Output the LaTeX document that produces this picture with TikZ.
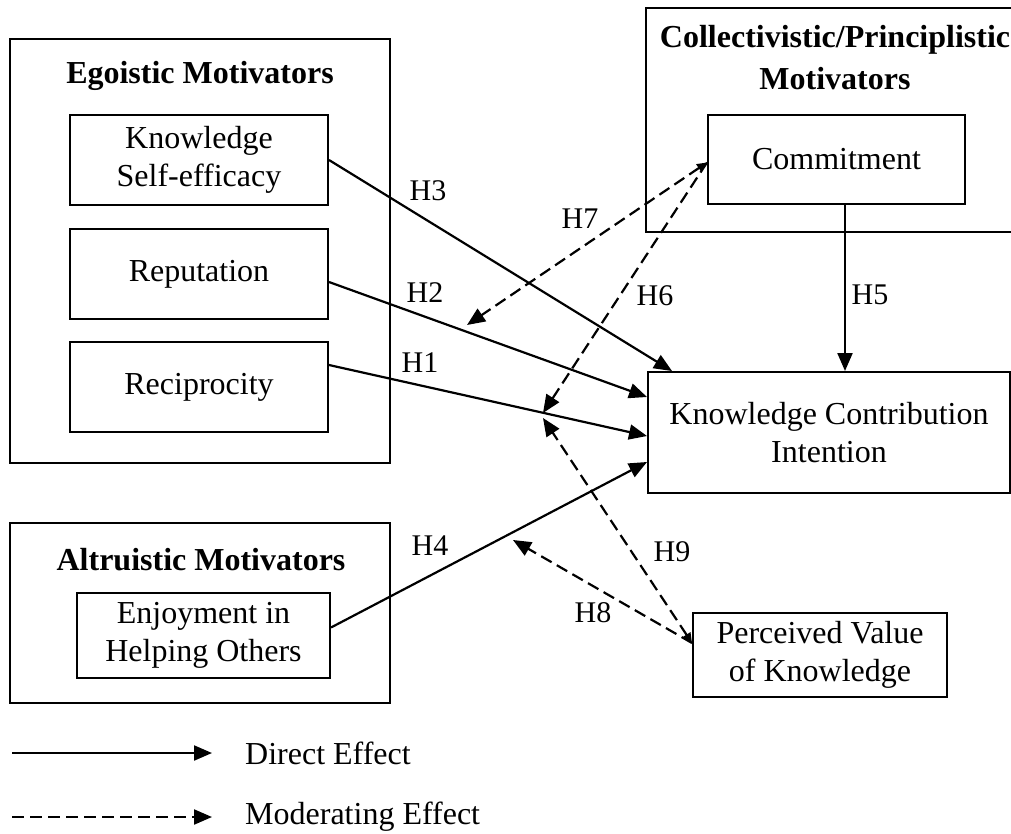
\documentclass[tikz,border=0pt]{standalone}
\usepackage{fontspec}
\setmainfont{Liberation Serif}
\usetikzlibrary{arrows.meta,calc}
\begin{document}
\begin{tikzpicture}[x=1pt,y=-1pt,
  every node/.style={font=\fontsize{32}{38}\selectfont},
  box/.style={draw,line width=2pt,inner sep=0pt,align=center},
  grp/.style={draw,line width=2pt,inner sep=0pt},
  ttl/.style={font=\fontsize{32}{42}\selectfont\bfseries,align=center,inner sep=0pt},
  lbl/.style={font=\fontsize{30}{36}\selectfont,inner sep=0pt},
  direct/.style={line width=2.2pt,-{Triangle[length=18pt,width=15pt]}},
  moder/.style={line width=2.2pt,dash pattern=on 12pt off 6pt,-{Triangle[length=18pt,width=15pt]}},
  moderb/.style={line width=2.2pt,dash pattern=on 12pt off 6pt,{Triangle[length=10pt,width=9pt]}-{Triangle[length=18pt,width=15pt]}}
]
\useasboundingbox (0,0) rectangle (1011,833);
% group boxes
\node[grp,minimum width=380pt,minimum height=424pt] (ego) at (200,251) {};
\node[ttl] (egot) at (200,76) {Egoistic Motivators};
\node[grp,minimum width=380pt,minimum height=180pt] (alt) at (200,613) {};
\node[ttl] (altt) at (201,560) {Altruistic Motivators};
\node[grp,minimum width=384pt,minimum height=224pt] (col) at (838,120) {};
\node[ttl] (colt) at (835,58) {Collectivistic/Principlistic\\Motivators};
% construct boxes
\node[box,minimum width=258pt,minimum height=90pt] (kse) at (199,160) {Knowledge\\Self-efficacy};
\node[box,minimum width=258pt,minimum height=90pt] (rep) at (199,274) {Reputation};
\node[box,minimum width=258pt,minimum height=90pt] (rec) at (199,387) {Reciprocity};
\node[box,minimum width=253pt,minimum height=85pt] (enj) at (203.5,635.5) {Enjoyment in\\Helping Others};
\node[box,minimum width=257pt,minimum height=89pt] (comm) at (836.5,159.5) {Commitment};
\node[box,minimum width=362pt,minimum height=121pt] (kci) at (829,432.5) {Knowledge Contribution\\Intention};
\node[box,minimum width=254pt,minimum height=84pt] (pv) at (820,655) {Perceived Value\\of Knowledge};
% free ends
\coordinate (h7e) at (467,325);
\coordinate (h6e) at (543,413);
\coordinate (h9e) at (543,418);
\coordinate (h8e) at (513,540);
% direct effects
\draw[direct] (kse.east) -- ($(kci.north west)+(25,0)$);
\draw[direct] ($(rep.east)+(0,8)$) -- ($(kci.north west)+(0,26)$);
\draw[direct] ($(rec.east)+(0,-22)$) -- ($(kci.north west)+(0,65)$);
\draw[direct] ($(enj.east)+(0,-8)$) -- ($(kci.north west)+(0,91)$);
\draw[direct] ($(comm.south)+(8.5,0)$) -- ($(kci.north)+(16,0)$);
% moderating effects
\draw[moderb] ($(comm.west)+(0,3)$) -- (h7e);
\draw[moder] ($(comm.west)+(0,3)$) -- (h6e);
\draw[moderb] ($(pv.west)+(0,-12)$) -- (h9e);
\draw[moder] ($(pv.west)+(0,-12)$) -- (h8e);
% labels
\node[lbl] (l3) at (428,191) {H3};
\node[lbl] (l7) at (580,219) {H7};
\node[lbl] (l2) at (425,293) {H2};
\node[lbl] (l6) at (655,296) {H6};
\node[lbl] (l5) at (870,295) {H5};
\node[lbl] (l1) at (420,363) {H1};
\node[lbl] (l4) at (430,546) {H4};
\node[lbl] (l9) at (672,552) {H9};
\node[lbl] (l8) at (593,613) {H8};
% legend
\coordinate (la1) at (12,753);
\coordinate (lb1) at (212,753);
\coordinate (la2) at (12,817);
\coordinate (lb2) at (212,817);
\draw[direct] (la1) -- (lb1);
\draw[moder] (la2) -- (lb2);
\node[anchor=west,inner sep=0pt] (ld) at (245,753) {Direct Effect};
\node[anchor=west,inner sep=0pt] (lm) at (245,817) {Moderating Effect};
\end{tikzpicture}
\end{document}
